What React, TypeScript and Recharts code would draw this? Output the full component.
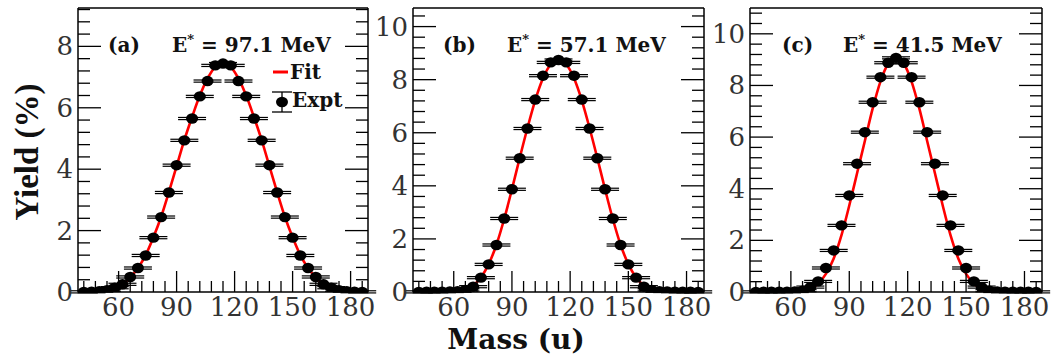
import React from 'react';
import {
  ComposedChart,
  Line,
  Scatter,
  ErrorBar,
  XAxis,
  YAxis,
} from 'recharts';

// mass bins (u)
const MASS = [
  42, 46, 50, 54, 58, 62, 66, 70, 74, 78, 82, 86, 90, 94, 98, 102, 106, 110, 114,
  118, 122, 126, 130, 134, 138, 142, 146, 150, 154, 158, 162, 166, 170, 174, 178, 182, 186,
];

// (a) E* = 97.1 MeV
const YIELD_A = [
  0.005, 0.01, 0.03, 0.06, 0.14, 0.25, 0.49, 0.78, 1.19, 1.77, 2.44, 3.24, 4.13, 4.94, 5.65, 6.37, 6.87, 7.38, 7.44,
  7.38, 6.87, 6.37, 5.65, 4.94, 4.13, 3.24, 2.44, 1.77, 1.19, 0.78, 0.49, 0.25, 0.14, 0.06, 0.03, 0.01, 0.005,
];
const FIT_A = [
  0.01, 0.02, 0.03, 0.06, 0.12, 0.25, 0.47, 0.78, 1.2, 1.78, 2.45, 3.25, 4.1, 4.95, 5.7, 6.4, 6.95, 7.33, 7.46,
  7.33, 6.95, 6.4, 5.7, 4.95, 4.1, 3.25, 2.45, 1.78, 1.2, 0.78, 0.47, 0.25, 0.12, 0.06, 0.03, 0.02, 0.01,
];

// (b) E* = 57.1 MeV
const YIELD_B = [
  0.005, 0.008, 0.01, 0.015, 0.02, 0.03, 0.08, 0.2, 0.54, 1.04, 1.77, 2.77, 3.87, 5.04, 6.16, 7.25, 8.15, 8.65, 8.74,
  8.65, 8.15, 7.25, 6.16, 5.04, 3.87, 2.77, 1.77, 1.04, 0.54, 0.2, 0.08, 0.03, 0.02, 0.015, 0.01, 0.008, 0.005,
];
const FIT_B = [
  0, 0, 0, 0.005, 0.01, 0.03, 0.1, 0.25, 0.55, 1.05, 1.78, 2.75, 3.87, 5.05, 6.18, 7.22, 8.05, 8.58, 8.76,
  8.58, 8.05, 7.22, 6.18, 5.05, 3.87, 2.75, 1.78, 1.05, 0.55, 0.25, 0.1, 0.03, 0.01, 0.005, 0, 0, 0,
];

// (c) E* = 41.5 MeV
const YIELD_C = [
  0.005, 0.008, 0.01, 0.01, 0.01, 0.02, 0.05, 0.19, 0.41, 0.93, 1.61, 2.58, 3.74, 4.97, 6.19, 7.35, 8.32, 8.88, 9.07,
  8.88, 8.32, 7.35, 6.19, 4.97, 3.74, 2.58, 1.61, 0.93, 0.41, 0.19, 0.05, 0.02, 0.01, 0.01, 0.01, 0.008, 0.005,
];
const FIT_C = [
  0, 0, 0, 0, 0.005, 0.015, 0.05, 0.13, 0.32, 0.7, 1.3, 2.2, 3.35, 4.6, 5.85, 7.1, 8.15, 8.85, 9.1,
  8.85, 8.15, 7.1, 5.85, 4.6, 3.35, 2.2, 1.3, 0.7, 0.32, 0.13, 0.05, 0.015, 0.005, 0, 0, 0, 0,
];

const X_DOMAIN: [number, number] = [39, 189];
const X_TICKS = [42, 48, 54, 60, 66, 72, 78, 84, 90, 96, 102, 108, 114, 120, 126, 132, 138, 144, 150, 156, 162, 168, 174, 180, 186];
const X_LABELS = [60, 90, 120, 150, 180];
const Y_LABELS = [0, 2, 4, 6, 8, 10];

const TICK_FONT = 'DejaVu Serif, serif';
const BOLD_FONT = 'DejaVu Serif, serif';

const minorY = (max: number) => {
  const out: number[] = [];
  for (let i = 0; i * 0.4 <= max + 1e-6; i++) out.push(+(i * 0.4).toFixed(1));
  return out;
};
const isMajorY = (v: number) => Y_LABELS.some(l => Math.abs(l - v) < 1e-6);

const BottomTick = ({ x, y, payload }: any) => {
  const major = X_LABELS.includes(payload.value);
  return (
    <g>
      <line x1={x} x2={x} y1={y} y2={y - (major ? 21 : 11)} stroke="#000" strokeWidth={1.3} />
      {major && (
        <text x={x} y={y + 24} textAnchor="middle" fontFamily={TICK_FONT} fontSize={26} fill="#333">
          {payload.value}
        </text>
      )}
    </g>
  );
};

const TopTick = ({ x, y, payload }: any) => {
  const major = X_LABELS.includes(payload.value);
  return <line x1={x} x2={x} y1={y} y2={y + (major ? 19 : 10)} stroke="#000" strokeWidth={1.3} />;
};

const LeftTick = ({ x, y, payload }: any) => {
  const major = isMajorY(payload.value);
  return (
    <g>
      <line x1={x} x2={x + (major ? 23 : 12)} y1={y} y2={y} stroke="#000" strokeWidth={1.3} />
      {major && (
        <text x={x - 5} y={y + 9} textAnchor="end" fontFamily={TICK_FONT} fontSize={26} fill="#333">
          {payload.value}
        </text>
      )}
    </g>
  );
};

const RightTick = ({ x, y, payload }: any) => {
  const major = isMajorY(payload.value);
  return <line x1={x} x2={x - (major ? 23 : 12)} y1={y} y2={y} stroke="#000" strokeWidth={1.3} />;
};

const Dot = (props: any) => <ellipse cx={props.cx} cy={props.cy} rx={6} ry={5.2} fill="#000" />;

interface PanelProps {
  left: number;
  width: number;
  mLeft: number;
  mRight: number;
  yMax: number;
  yields: number[];
  fit: number[];
  err: number;
}

function Panel({ left, width, mLeft, mRight, yMax, yields, fit, err }: PanelProps) {
  const pts = MASS.map((m, i) => ({ x: m, y: yields[i], err }));
  const fitPts = MASS.map((m, i) => ({ x: m, y: fit[i] }));
  const yTicks = minorY(yMax);
  return (
    <div style={{ position: 'absolute', left, top: 0 }}>
      <ComposedChart width={width} height={361} margin={{ top: 7, right: mRight, bottom: 29, left: mLeft }}>
        <XAxis
          dataKey="x"
          type="number"
          domain={X_DOMAIN}
          allowDataOverflow
          ticks={X_TICKS}
          interval={0}
          height={40}
          tickSize={0}
          tickMargin={0}
          tickLine={false}
          axisLine={{ stroke: '#000', strokeWidth: 1.5 }}
          tick={<BottomTick />}
        />
        <XAxis
          xAxisId="top"
          orientation="top"
          type="number"
          domain={X_DOMAIN}
          allowDataOverflow
          ticks={X_TICKS}
          interval={0}
          height={1}
          tickSize={0}
          tickMargin={0}
          tickLine={false}
          axisLine={{ stroke: '#000', strokeWidth: 1.5 }}
          tick={<TopTick />}
        />
        <YAxis
          type="number"
          domain={[0, yMax]}
          allowDataOverflow
          ticks={yTicks}
          interval={0}
          width={30}
          tickSize={0}
          tickMargin={0}
          tickLine={false}
          axisLine={{ stroke: '#000', strokeWidth: 1.5 }}
          tick={<LeftTick />}
        />
        <YAxis
          yAxisId="right"
          orientation="right"
          type="number"
          domain={[0, yMax]}
          allowDataOverflow
          ticks={yTicks}
          interval={0}
          width={1}
          tickSize={0}
          tickMargin={0}
          tickLine={false}
          axisLine={{ stroke: '#000', strokeWidth: 1.5 }}
          tick={<RightTick />}
        />
        <Line
          data={fitPts}
          dataKey="y"
          type="monotone"
          stroke="#ff0000"
          strokeWidth={2.6}
          dot={false}
          isAnimationActive={false}
        />
        <Scatter data={pts} dataKey="y" shape={<Dot />} isAnimationActive={false}>
          <ErrorBar dataKey="err" direction="y" width={14} stroke="#000" strokeWidth={1.2} />
        </Scatter>
      </ComposedChart>
    </div>
  );
}

export default function App() {
  const bold = { fontFamily: BOLD_FONT, fontWeight: 700, fill: '#111' } as const;
  const title = (x0: number, x1: number, tag: string, e: string) => (
    <g>
      <text x={x0} y={52} fontSize={20} {...bold}>{tag}</text>
      <text x={x1} y={52} fontSize={20} {...bold}>
        E<tspan dy={-8} fontSize={13}>*</tspan>
        <tspan dy={8}>{` = ${e} MeV`}</tspan>
      </text>
    </g>
  );
  return (
    <div style={{ position: 'absolute', left: 0, top: 0, width: 1054, height: 361, background: '#fff', overflow: 'hidden' }}>
      <Panel left={0} width={380} mLeft={48} mRight={11} yMax={9.25} yields={YIELD_A} fit={FIT_A} err={0.035} />
      <Panel left={360} width={354} mLeft={23} mRight={9} yMax={10.7} yields={YIELD_B} fit={FIT_B} err={0.04} />
      <Panel left={700} width={354} mLeft={20} mRight={11} yMax={11} yields={YIELD_C} fit={FIT_C} err={0.04} />
      <svg width={1054} height={361} style={{ position: 'absolute', left: 0, top: 0, pointerEvents: 'none' }}>
        {title(108, 172, '(a)', '97.1')}
        {title(443, 507, '(b)', '57.1')}
        {title(782, 843, '(c)', '41.5')}
        {/* legend */}
        <line x1={273} x2={288} y1={72} y2={72} stroke="#ff0000" strokeWidth={3} />
        <text x={290} y={79} fontSize={20} {...bold}>Fit</text>
        <line x1={282} x2={282} y1={92} y2={112} stroke="#000" strokeWidth={1.3} />
        <line x1={272} x2={292} y1={92} y2={92} stroke="#000" strokeWidth={1.3} />
        <line x1={272} x2={292} y1={112} y2={112} stroke="#000" strokeWidth={1.3} />
        <ellipse cx={282} cy={102} rx={6} ry={5.2} fill="#000" />
        <text x={292} y={107} fontSize={20} {...bold}>Expt</text>
        {/* axis titles */}
        <text
          x={0}
          y={0}
          transform="translate(38,152) rotate(-90)"
          textAnchor="middle"
          fontFamily="Liberation Serif, serif"
          fontWeight={700}
          fontSize={33}
          fill="#111"
        >
          Yield (%)
        </text>
        <text x={516} y={349} textAnchor="middle" fontSize={28} {...bold}>Mass (u)</text>
      </svg>
    </div>
  );
}
